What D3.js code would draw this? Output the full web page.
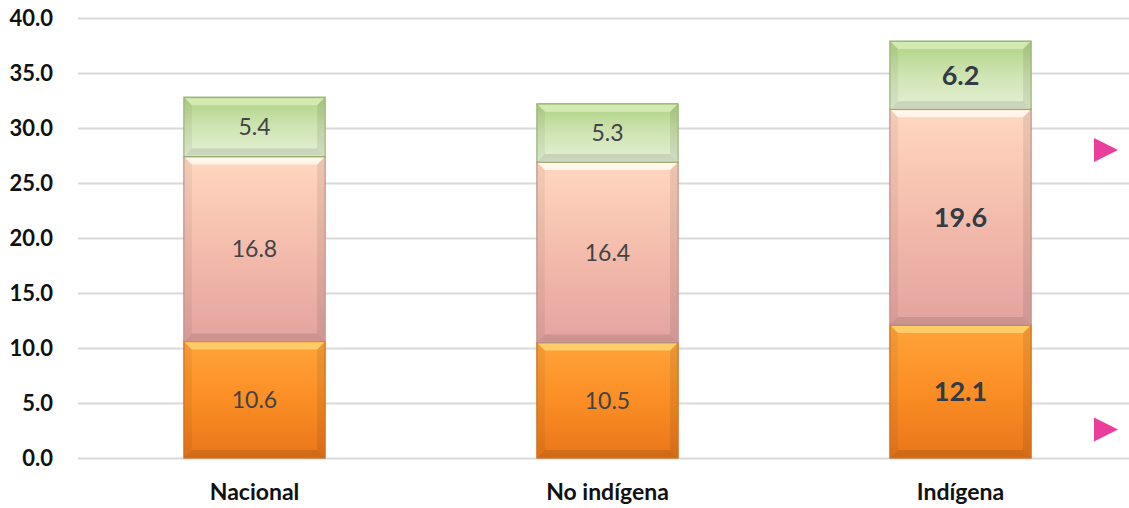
<!DOCTYPE html>
<html>
<head>
<meta charset="utf-8">
<script src="https://cdn.jsdelivr.net/npm/d3@7"></script>
<style>
  body { margin: 0; background: #fff; }
  svg { display: block; font-family: Lato, "Open Sans", sans-serif; }
</style>
</head>
<body>
<svg width="1129" height="508"></svg>
<script>
const categories = ["Nacional", "No indígena", "Indígena"];
const bottomVals = [10.6, 10.5, 12.1];
const middleVals = [16.8, 16.4, 19.6];
const topVals = [5.4, 5.3, 6.2];
const yTicks = [0, 5, 10, 15, 20, 25, 30, 35, 40];
const arrowAt = [28.0, 2.6];

const svg = d3.select("svg");

const x = d3.scaleBand().domain(categories).range([78, 1137]).paddingInner(0.6).paddingOuter(0.3);
const y = d3.scaleLinear().domain([0, 40]).range([458, 18]);

const defs = svg.append("defs");
function grad(id, stops) {
  const g = defs.append("linearGradient").attr("id", id)
    .attr("x1", 0).attr("y1", 0).attr("x2", 0).attr("y2", 1);
  stops.forEach(s => g.append("stop").attr("offset", s[0]).attr("stop-color", s[1]));
}
grad("gOrange", [[0, "#ffa43a"], [0.5, "#fb8e25"], [1, "#e8761a"]]);
grad("gMid", [[0, "#ffd8c0"], [0.5, "#f4bcac"], [1, "#e3a39f"]]);
grad("gGreen", [[0, "#afd383"], [0.5, "#cfe4b2"], [1, "#e4f0d6"]]);

// gridlines
svg.append("g")
  .attr("transform", "translate(78,0)")
  .call(d3.axisLeft(y).tickValues(yTicks).tickSize(-1060).tickFormat(""))
  .call(g => g.select(".domain").remove())
  .call(g => g.selectAll("line").attr("stroke", "#d9d9d9").attr("stroke-width", 2));

// y labels
svg.append("g")
  .attr("transform", "translate(56,0)")
  .call(d3.axisLeft(y).tickValues(yTicks).tickSize(0).tickFormat(d3.format(".1f")))
  .call(g => g.select(".domain").remove())
  .call(g => g.selectAll("text")
    .attr("font-size", 22).attr("font-weight", "bold").attr("fill", "#111")
    .attr("font-family", "Lato, sans-serif"));

const layers = [
  { vals: bottomVals, fill: "url(#gOrange)", stroke: "#c9661a", hi: "#ffd070" },
  { vals: middleVals, fill: "url(#gMid)", stroke: "#b88a86", hi: "#fff8f0" },
  { vals: topVals, fill: "url(#gGreen)", stroke: "#8fae6c", hi: "#d6ecb8" }
];

const bw = x.bandwidth();
categories.forEach((c, i) => {
  let base = 0;
  const x0 = x(c);
  layers.forEach((L, li) => {
    const v = L.vals[i];
    const yTop = y(base + v), yBot = y(base);
    const h = yBot - yTop;
    const g = svg.append("g");
    g.append("rect").attr("x", x0).attr("y", yTop).attr("width", bw).attr("height", h)
      .attr("fill", L.fill).attr("stroke", L.stroke).attr("stroke-width", 1.2);
    // bevel top highlight
    const b = 8;
    g.append("path")
      .attr("d", `M${x0 + 1},${yTop + 1} L${x0 + bw - 1},${yTop + 1} L${x0 + bw - b},${yTop + b} L${x0 + b},${yTop + b} Z`)
      .attr("fill", L.hi).attr("opacity", 0.9);
    // bevel sides
    g.append("path")
      .attr("d", `M${x0 + 1},${yTop + 1} L${x0 + b},${yTop + b} L${x0 + b},${yBot - b} L${x0 + 1},${yBot - 1} Z`)
      .attr("fill", "#000").attr("opacity", 0.05);
    g.append("path")
      .attr("d", `M${x0 + bw - 1},${yTop + 1} L${x0 + bw - b},${yTop + b} L${x0 + bw - b},${yBot - b} L${x0 + bw - 1},${yBot - 1} Z`)
      .attr("fill", "#000").attr("opacity", 0.08);
    g.append("path")
      .attr("d", `M${x0 + 1},${yBot - 1} L${x0 + b},${yBot - b} L${x0 + bw - b},${yBot - b} L${x0 + bw - 1},${yBot - 1} Z`)
      .attr("fill", "#000").attr("opacity", 0.1);
    const bold = i === 2;
    g.append("text")
      .attr("x", x0 + bw / 2).attr("y", (yTop + yBot) / 2)
      .attr("dy", "0.36em").attr("text-anchor", "middle")
      .attr("font-size", bold ? 27 : 23).attr("font-weight", bold ? "bold" : "normal")
      .attr("fill", bold ? "#333b45" : "#404347")
      .text(v.toFixed(1));
    base += v;
  });
});

// category labels
svg.append("g")
  .attr("transform", "translate(0,458)")
  .call(d3.axisBottom(x).tickSize(0).tickPadding(26))
  .call(g => g.select(".domain").remove())
  .call(g => g.selectAll("text")
    .attr("font-size", 23).attr("font-weight", "bold").attr("fill", "#111")
    .attr("font-family", "Lato, sans-serif"));

// pink arrows
svg.append("g").selectAll("path").data(arrowAt).join("path")
  .attr("d", d => `M1094,${y(d) - 12} L1118,${y(d)} L1094,${y(d) + 12} Z`)
  .attr("fill", "#ea3d9c");
</script>
</body>
</html>
